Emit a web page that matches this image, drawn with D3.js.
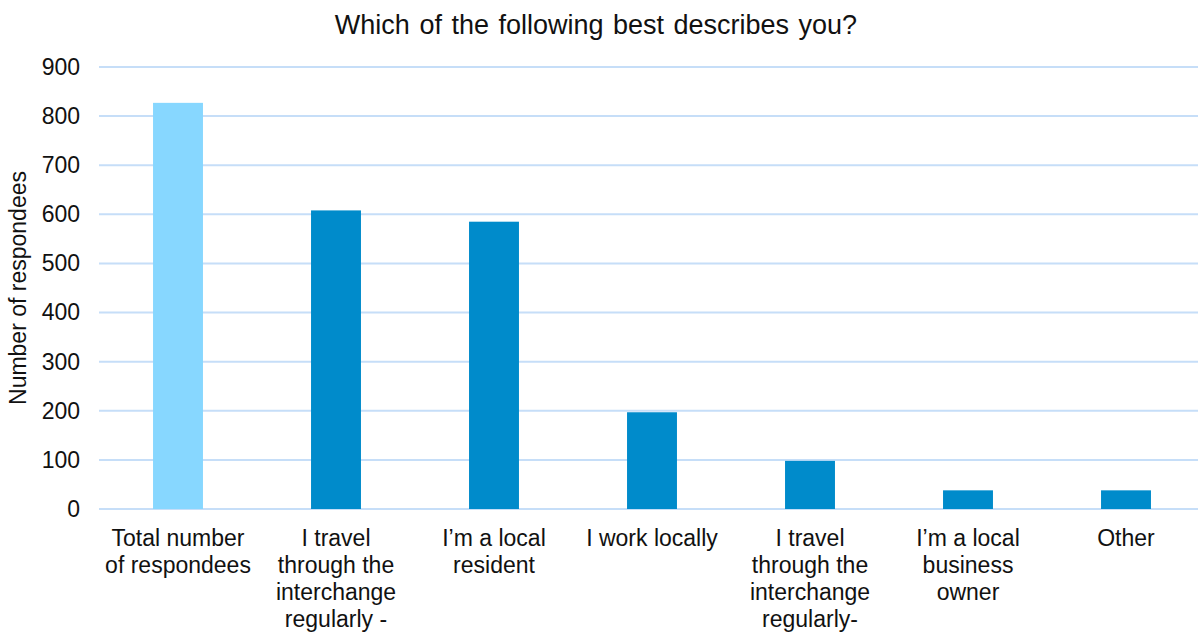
<!DOCTYPE html>
<html>
<head>
<meta charset="utf-8">
<script src="https://cdn.jsdelivr.net/npm/d3@7"></script>
<style>
    body { margin: 0; background: #fff; }
    text { font-family: "Liberation Sans", Arial, sans-serif; fill: #111; }
</style>
</head>
<body>
<svg id="chart" width="1198" height="633"></svg>
<script>
// ---------------------------------------------------------------
//    DATA
// ---------------------------------------------------------------
const categories = [
    "Total number of respondees",
    "I travel through the interchange regularly -",
    "I’m a local resident",
    "I work locally",
    "I travel through the interchange regularly-",
    "I’m a local business owner",
    "Other"
];
// how each label is broken over lines under the axis
const categoryLines = [
    ["Total number", "of respondees"],
    ["I travel", "through the", "interchange", "regularly -"],
    ["I’m a local", "resident"],
    ["I work locally"],
    ["I travel", "through the", "interchange", "regularly-"],
    ["I’m a local", "business", "owner"],
    ["Other"]
];
const values = [827, 608, 585, 197, 98, 38, 38];
const yTicks = [0, 100, 200, 300, 400, 500, 600, 700, 800, 900];

const title = "Which of the following best describes you?";
const yTitle = "Number of respondees";

// ---------------------------------------------------------------
//    DRAWING
// ---------------------------------------------------------------
const svg = d3.select("#chart");

const x = d3.scaleBand()
    .domain(categories)
    .range([99, 1205])
    .paddingInner(0.684)
    .paddingOuter(0.342);

const y = d3.scaleLinear()
    .domain([0, 900])
    .range([509, 67]);

// gridlines (incl. the zero line)
svg.append("g")
    .selectAll("line")
    .data(yTicks)
    .join("line")
    .attr("x1", 99)
    .attr("x2", 1198)
    .attr("y1", d => y(d))
    .attr("y2", d => y(d))
    .attr("stroke", "#c6def8")
    .attr("stroke-width", 2);

// y tick labels
const yAxis = svg.append("g")
    .attr("transform", "translate(81,0)")
    .call(d3.axisLeft(y).tickValues(yTicks).tickSize(0).tickPadding(1));
yAxis.select(".domain").remove();
yAxis.selectAll("text")
    .attr("font-size", 23)
    .attr("font-family", "Liberation Sans, Arial, sans-serif")
    .attr("fill", "#111");

// bars
svg.append("g")
    .selectAll("rect")
    .data(values)
    .join("rect")
    .attr("x", (d, i) => x(categories[i]))
    .attr("y", d => y(d))
    .attr("width", x.bandwidth())
    .attr("height", d => y(0) - y(d))
    .attr("fill", (d, i) => i === 0 ? "#87d7ff" : "#008bcb");

// category labels, multi line
const labels = svg.append("g")
    .selectAll("text")
    .data(categories)
    .join("text")
    .attr("text-anchor", "middle")
    .attr("font-size", 23)
    .attr("y", 546);

labels.selectAll("tspan")
    .data((d, i) => categoryLines[i].map(l => ({ l, c: d })))
    .join("tspan")
    .attr("x", d => x(d.c) + x.bandwidth() / 2)
    .attr("dy", (d, j) => j === 0 ? 0 : 27)
    .text(d => d.l);

// title
svg.append("text")
    .attr("x", 596)
    .attr("y", 34)
    .attr("text-anchor", "middle")
    .attr("font-size", 27)
    .attr("word-spacing", 2)
    .text(title);

// y axis title
svg.append("text")
    .attr("transform", "translate(26,288) rotate(-90)")
    .attr("text-anchor", "middle")
    .attr("font-size", 23)
    .text(yTitle);
</script>
</body>
</html>
